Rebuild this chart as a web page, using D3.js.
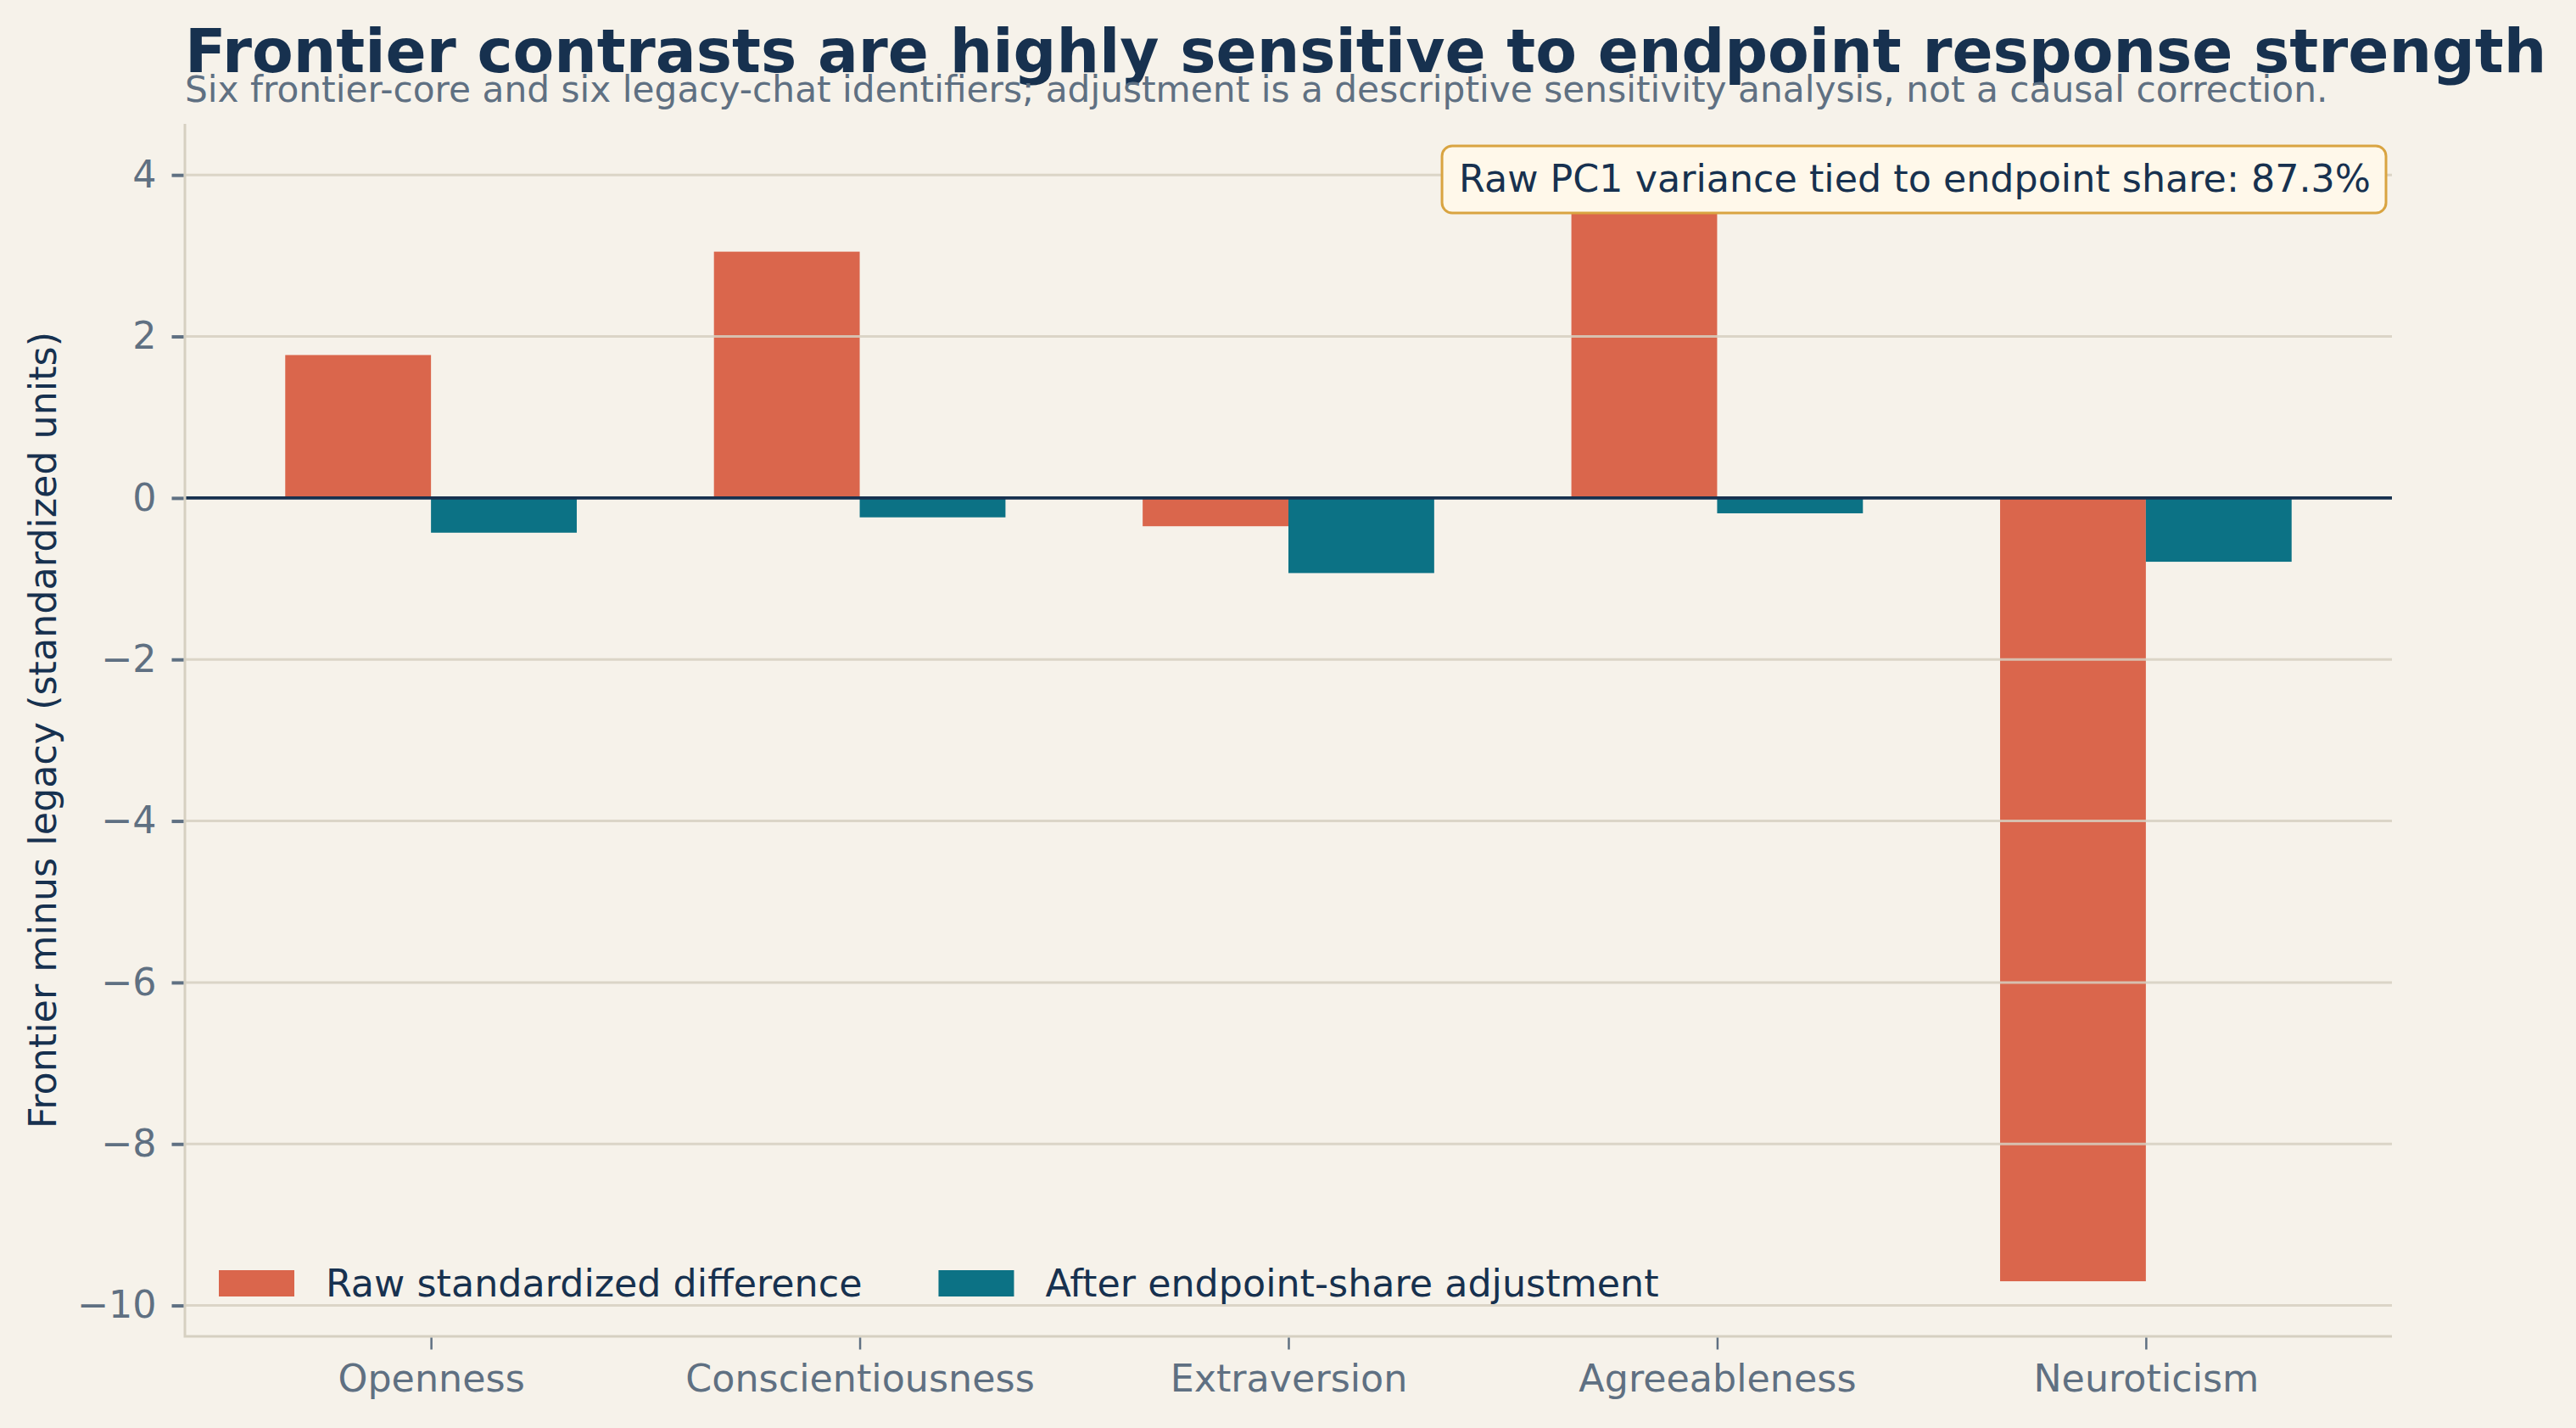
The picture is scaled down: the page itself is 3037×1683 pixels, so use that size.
<!DOCTYPE html>
<html>
<head>
<meta charset="utf-8">
<script src="https://cdn.jsdelivr.net/npm/d3@7"></script>
<style>
  html, body { margin: 0; padding: 0; background: #F6F2EA; }
  svg { display: block; font-family: "DejaVu Sans", sans-serif; }
</style>
</head>
<body>
<svg width="3037" height="1683"></svg>
<script>
// data
let traits = ["Openness", "Conscientiousness", "Extraversion", "Agreeableness", "Neuroticism"];
let rawDiff = [1.77, 3.05, -0.35, 3.95, -9.70];
let adjDiff = [-0.43, -0.24, -0.93, -0.19, -0.79];
let yTicks = [-10, -8, -6, -4, -2, 0, 2, 4];
let seriesNames = ["Raw standardized difference", "After endpoint-share adjustment"];
let pc1Share = "87.3%";

let svg = d3.select("svg"),
    width = +svg.attr("width"),
    height = +svg.attr("height");

let bg = "#F6F2EA",
    rawColor = "#DA664C",
    adjColor = "#0C7285",
    navy = "#17314F",
    slate = "#5F7082",
    gridColor = "#D6D0C1";

let fontSize = "44.4px";
let plot = {left: 218, right: 2820, top: 146, bottom: 1575};
let barW = 0.34;

svg.append("rect").attr("width", width).attr("height", height).attr("fill", bg);

//matplotlib style 5% margins
let xLo = -barW, xHi = traits.length - 1 + barW;
let xPad = (xHi - xLo) * 0.05;
let x = d3.scaleLinear()
    .domain([xLo - xPad, xHi + xPad])
    .range([plot.left, plot.right]);

let allVals = rawDiff.concat(adjDiff, [0]);
let yLo = d3.min(allVals), yHi = d3.max(allVals);
let yPad = (yHi - yLo) * 0.05;
let y = d3.scaleLinear()
    .domain([yLo - yPad, yHi + yPad])
    .range([plot.bottom, plot.top]);

//bars
let series = [
    {name: seriesNames[0], values: rawDiff, color: rawColor, offset: -barW / 2},
    {name: seriesNames[1], values: adjDiff, color: adjColor, offset: barW / 2}
];

let barGroup = svg.append("g").attr("class", "bars");
series.forEach(s => {
    barGroup.selectAll(null)
        .data(s.values).enter().append("rect")
            .attr("x", (d, i) => x(i + s.offset - barW / 2))
            .attr("width", x(barW) - x(0))
            .attr("y", d => y(Math.max(0, d)))
            .attr("height", d => Math.abs(y(d) - y(0)))
            .attr("fill", s.color);
});

//grid sits on top of the bars
svg.append("g").attr("class", "grid")
    .selectAll("line")
    .data(yTicks.filter(t => t !== 0)).enter().append("line")
        .attr("x1", plot.left).attr("x2", plot.right)
        .attr("y1", d => y(d)).attr("y2", d => y(d))
        .attr("stroke", gridColor)
        .attr("stroke-opacity", 0.85)
        .attr("stroke-width", 3);

//zero line
svg.append("line")
    .attr("x1", plot.left).attr("x2", plot.right)
    .attr("y1", y(0)).attr("y2", y(0))
    .attr("stroke", navy)
    .attr("stroke-width", 3.8);

//spines (left + bottom)
svg.append("path")
    .attr("d", `M${plot.left},${plot.top}V${plot.bottom}H${plot.right}`)
    .attr("fill", "none")
    .attr("stroke", gridColor)
    .attr("stroke-width", 3);

//y axis
let yAxis = svg.append("g")
    .attr("transform", `translate(${plot.left - 1.5},0)`)
    .call(d3.axisLeft(y)
        .tickValues(yTicks)
        .tickSize(14)
        .tickPadding(18)
        .tickFormat(d => d < 0 ? "\u2212" + Math.abs(d) : d));
yAxis.select(".domain").remove();
yAxis.selectAll(".tick line").attr("stroke", slate).attr("stroke-width", 4);
yAxis.selectAll(".tick text")
    .attr("fill", slate)
    .style("font-size", fontSize)
    .style("font-family", "DejaVu Sans");

//x axis
let xAxis = svg.append("g")
    .attr("transform", `translate(0,${plot.bottom + 1.5})`)
    .call(d3.axisBottom(x)
        .tickValues(d3.range(traits.length))
        .tickSize(14)
        .tickPadding(18)
        .tickFormat(i => traits[i]));
xAxis.select(".domain").remove();
xAxis.selectAll(".tick line").attr("stroke", slate).attr("stroke-width", 2.5);
xAxis.selectAll(".tick text")
    .attr("fill", slate)
    .style("font-size", fontSize)
    .style("font-family", "DejaVu Sans");

//y label
svg.append("text")
    .attr("transform", `translate(66,${(plot.top + plot.bottom) / 2}) rotate(-90)`)
    .attr("text-anchor", "middle")
    .attr("fill", navy)
    .style("font-size", fontSize)
    .text("Frontier minus legacy (standardized units)");

//title + subtitle
svg.append("text")
    .attr("x", 218).attr("y", 85)
    .attr("fill", navy)
    .style("font-size", "71px")
    .style("font-weight", "bold")
    .text("Frontier contrasts are highly sensitive to endpoint response strength");

svg.append("text")
    .attr("x", 218).attr("y", 120)
    .attr("fill", slate)
    .style("font-size", "42.3px")
    .text("Six frontier-core and six legacy-chat identifiers; adjustment is a descriptive sensitivity analysis, not a causal correction.");

//annotation box, upper right
let note = svg.append("g").attr("class", "note");
let noteBox = note.append("rect");
let noteText = note.append("text")
    .attr("fill", navy)
    .style("font-size", fontSize)
    .attr("text-anchor", "end")
    .attr("x", 2795)
    .attr("y", 226)
    .text("Raw PC1 variance tied to endpoint share: " + pc1Share);
let nw = noteText.node().getComputedTextLength();
noteBox
    .attr("x", 2795 - nw - 20)
    .attr("y", 172)
    .attr("width", nw + 38)
    .attr("height", 79)
    .attr("rx", 12)
    .attr("fill", "#FFF8EA")
    .attr("stroke", "#D9A441")
    .attr("stroke-width", 3);

//legend, lower left, no frame
let legend = svg.append("g").attr("class", "legend");
let lx = 258;
series.forEach(s => {
    legend.append("rect")
        .attr("x", lx).attr("y", 1497)
        .attr("width", 89).attr("height", 31)
        .attr("fill", s.color);
    let t = legend.append("text")
        .attr("x", lx + 126).attr("y", 1528)
        .attr("fill", navy)
        .style("font-size", fontSize)
        .text(s.name);
    lx = lx + 126 + t.node().getComputedTextLength() + 90;
});
</script>
</body>
</html>
